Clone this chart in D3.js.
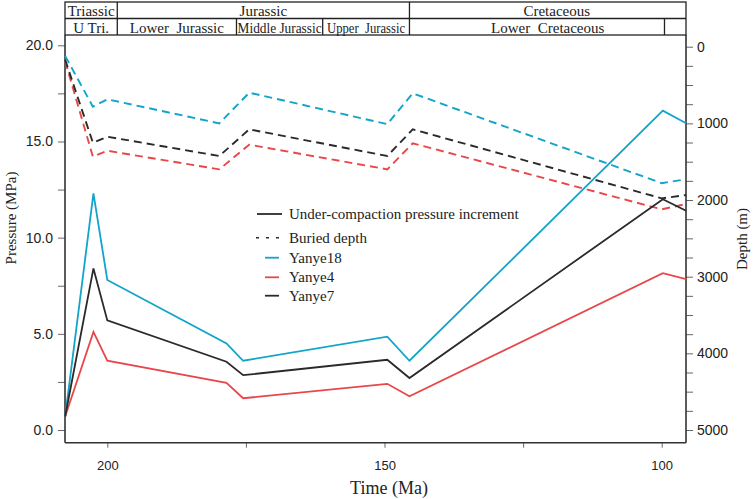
<!DOCTYPE html>
<html><head><meta charset="utf-8">
<script src="https://cdn.jsdelivr.net/npm/d3@7"></script>
<style>
html,body{margin:0;padding:0;background:#fff;}
svg{display:block;}
</style></head>
<body>
<svg id="chart" width="754" height="499"></svg>
<script>
// ---- data ----
const timeSolid = [207.6, 202.5, 200.0, 178.5, 175.5, 149.5, 145.5, 99.8, 95.6];
const pressureYanye18 = [0.7, 12.3, 7.8, 4.5, 3.6, 4.85, 3.6, 16.6, 15.95];
const pressureYanye7  = [0.7, 8.4, 5.7, 3.55, 2.85, 3.65, 2.7, 12.0, 11.4];
const pressureYanye4  = [0.7, 5.1, 3.6, 2.45, 1.65, 2.4, 1.75, 8.15, 7.85];

const timeDashed = [207.6, 202.6, 200.0, 179.8, 174.4, 149.5, 144.9, 100.0, 95.6];
const depthYanye18 = [120, 783, 686, 1000, 600, 1010, 608, 1780, 1730];
const depthYanye7  = [170, 1252, 1174, 1426, 1078, 1426, 1078, 1978, 1935];
const depthYanye4  = [190, 1435, 1357, 1600, 1278, 1600, 1260, 2121, 2052];

const wells = ["Yanye18", "Yanye4", "Yanye7"];
const wellColors = ["#12a4c9", "#e8474a", "#2a2a2a"];

const pressureTicks = [0, 2.5, 5, 7.5, 10, 12.5, 15, 17.5, 20];
const pressureLabels = [0, 5, 10, 15, 20];
const depthTicks = [0,250,500,750,1000,1250,1500,1750,2000,2250,2500,2750,3000,3250,3500,3750,4000,4250,4500,4750,5000];
const depthLabels = [0, 1000, 2000, 3000, 4000, 5000];
const timeTicks = [200, 175, 150, 125, 100];
const timeLabels = [200, 150, 100];

const periods = [
  {name: "Triassic", from: 207.63, to: 198.2, dx: 0},
  {name: "Jurassic", from: 198.2, to: 145.5, dx: 0},
  {name: "Cretaceous", from: 145.5, to: 95.62, dx: 9}
];
const epochs = [
  {name: "U Tri.", from: 207.63, to: 198.2, len: null, center: null},
  {name: "Lower  Jurassic", from: 198.2, to: 176.7, len: null, center: null},
  {name: "Middle Jurassic", from: 176.7, to: 161.15, len: 84, center: null},
  {name: "Upper  Jurassic", from: 161.15, to: 145.5, len: 78, center: null},
  {name: "Lower  Cretaceous", from: 145.5, to: 99.5, len: null, center: 95.62},
  {name: "", from: 99.5, to: 95.62, len: null, center: null}
];
const legendItems = [
  {label: "Under-compaction pressure increment", type: "solid", color: "#2a2a2a"},
  {label: "Buried depth", type: "dotted", color: "#2a2a2a"},
  {label: "Yanye18", type: "short", color: "#12a4c9"},
  {label: "Yanye4", type: "short", color: "#e8474a"},
  {label: "Yanye7", type: "short", color: "#2a2a2a"}
];

// ---- layout ----
const L = 65, R = 686, T = 35, B = 442.7, HT = 2, HM = 18.5;
const svg = d3.select("#chart");
const x = d3.scaleLinear().domain([207.63, 95.62]).range([L, R]);
const yP = d3.scaleLinear().domain([0, 20]).range([430, 45.3]);
const yD = d3.scaleLinear().domain([0, 5000]).range([46.7, 430]);

const serif = "'Liberation Serif','Times New Roman',serif";
const sans = "'Liberation Sans',Arial,sans-serif";
const axisColor = "#333";

// header
const hdr = svg.append("g");
hdr.append("rect").attr("x", L).attr("y", HT).attr("width", R - L).attr("height", T - HT)
  .attr("fill", "none").attr("stroke", "#222").attr("stroke-width", 1.3);
hdr.append("line").attr("x1", L).attr("x2", R).attr("y1", HM).attr("y2", HM)
  .attr("stroke", "#222").attr("stroke-width", 1.3);
periods.forEach((p, i) => {
  if (i > 0) hdr.append("line").attr("x1", x(p.from)).attr("x2", x(p.from)).attr("y1", HT).attr("y2", HM)
    .attr("stroke", "#222").attr("stroke-width", 1.3);
  hdr.append("text").attr("x", (x(p.from) + x(p.to)) / 2 + p.dx).attr("y", 16)
    .attr("text-anchor", "middle").attr("font-family", serif).attr("font-size", 15).attr("fill", "#222")
    .text(p.name);
});
epochs.forEach((e, i) => {
  if (i > 0) hdr.append("line").attr("x1", x(e.from)).attr("x2", x(e.from)).attr("y1", HM).attr("y2", T)
    .attr("stroke", "#222").attr("stroke-width", 1.3);
  if (!e.name) return;
  const endT = e.center !== null ? e.center : e.to;
  const t = hdr.append("text").attr("x", (x(e.from) + x(endT)) / 2).attr("y", 32.5)
    .attr("text-anchor", "middle").attr("font-family", serif).attr("font-size", 15).attr("fill", "#222")
    .style("white-space", "pre").text(e.name);
  if (e.len) t.attr("textLength", e.len).attr("lengthAdjust", "spacingAndGlyphs");
});

// axes
const fmt1 = d3.format(".1f");
const gL = svg.append("g").attr("transform", `translate(${L},0)`)
  .call(d3.axisLeft(yP).tickValues(pressureTicks).tickSize(7).tickSizeOuter(0).tickPadding(5)
    .tickFormat(d => pressureLabels.includes(d) ? fmt1(d) : ""));
const gR = svg.append("g").attr("transform", `translate(${R},0)`)
  .call(d3.axisRight(yD).tickValues(depthTicks).tickSize(7).tickSizeOuter(0).tickPadding(4)
    .tickFormat(d => depthLabels.includes(d) ? String(d) : ""));
const gB = svg.append("g").attr("transform", `translate(0,${B})`)
  .call(d3.axisBottom(x).tickValues(timeTicks).tickSize(5).tickSizeOuter(0).tickPadding(13)
    .tickFormat(d => timeLabels.includes(d) ? String(d) : ""));
[gL, gR, gB].forEach(g => {
  g.select(".domain").remove();
  g.selectAll(".tick line").attr("stroke", "#666").attr("stroke-width", 1);
  g.selectAll(".tick text").attr("font-family", sans).attr("font-size", 14).attr("fill", "#222");
});
gB.selectAll(".tick text").attr("font-size", 13);
// frame lines (axis lines)
svg.append("line").attr("x1", L).attr("x2", L).attr("y1", T).attr("y2", B).attr("stroke", axisColor).attr("stroke-width", 1.6);
svg.append("line").attr("x1", R).attr("x2", R).attr("y1", T).attr("y2", B).attr("stroke", axisColor).attr("stroke-width", 1.6);
svg.append("line").attr("x1", L).attr("x2", R).attr("y1", B).attr("y2", B).attr("stroke", axisColor).attr("stroke-width", 1.6);

// axis titles
svg.append("text").attr("transform", `translate(16,218) rotate(-90)`).attr("text-anchor", "middle")
  .attr("font-family", serif).attr("font-size", 15).attr("fill", "#222").text("Pressure (MPa)");
svg.append("text").attr("transform", `translate(747,239) rotate(-90)`).attr("text-anchor", "middle")
  .attr("font-family", serif).attr("font-size", 15).attr("fill", "#222").text("Depth (m)");
svg.append("text").attr("x", 389).attr("y", 494).attr("text-anchor", "middle")
  .attr("font-family", serif).attr("font-size", 18).attr("fill", "#222").text("Time (Ma)");

// lines
const solidData = [pressureYanye18, pressureYanye4, pressureYanye7];
const dashedData = [depthYanye18, depthYanye4, depthYanye7];
const lineP = d3.line().x(d => x(d[0])).y(d => yP(d[1]));
const lineD = d3.line().x(d => x(d[0])).y(d => yD(d[1]));
const plot = svg.append("g");
dashedData.forEach((vals, i) => {
  plot.append("path").datum(timeDashed.map((t, j) => [t, vals[j]]))
    .attr("d", lineD).attr("fill", "none").attr("stroke", wellColors[i])
    .attr("stroke-width", 1.9).attr("stroke-dasharray", "8,5");
});
solidData.forEach((vals, i) => {
  plot.append("path").datum(timeSolid.map((t, j) => [t, vals[j]]))
    .attr("d", lineP).attr("fill", "none").attr("stroke", wellColors[i])
    .attr("stroke-width", 1.8).attr("stroke-linejoin", "miter");
});

// legend
const lg = svg.append("g");
const rowY = [214, 237.7, 257.7, 277.3, 295.7];
legendItems.forEach((it, i) => {
  const y = rowY[i];
  if (it.type === "solid") {
    lg.append("line").attr("x1", 257).attr("x2", 282).attr("y1", y).attr("y2", y).attr("stroke", it.color).attr("stroke-width", 1.8);
  } else if (it.type === "dotted") {
    lg.append("line").attr("x1", 256).attr("x2", 282).attr("y1", y).attr("y2", y).attr("stroke", it.color)
      .attr("stroke-width", 1.6).attr("stroke-dasharray", "3,7");
  } else {
    lg.append("line").attr("x1", 265).attr("x2", 279).attr("y1", y).attr("y2", y).attr("stroke", it.color).attr("stroke-width", 1.8);
  }
  lg.append("text").attr("x", 289).attr("y", y + 5).attr("font-family", serif).attr("font-size", 15)
    .attr("fill", "#222").text(it.label);
});
</script>
</body></html>
